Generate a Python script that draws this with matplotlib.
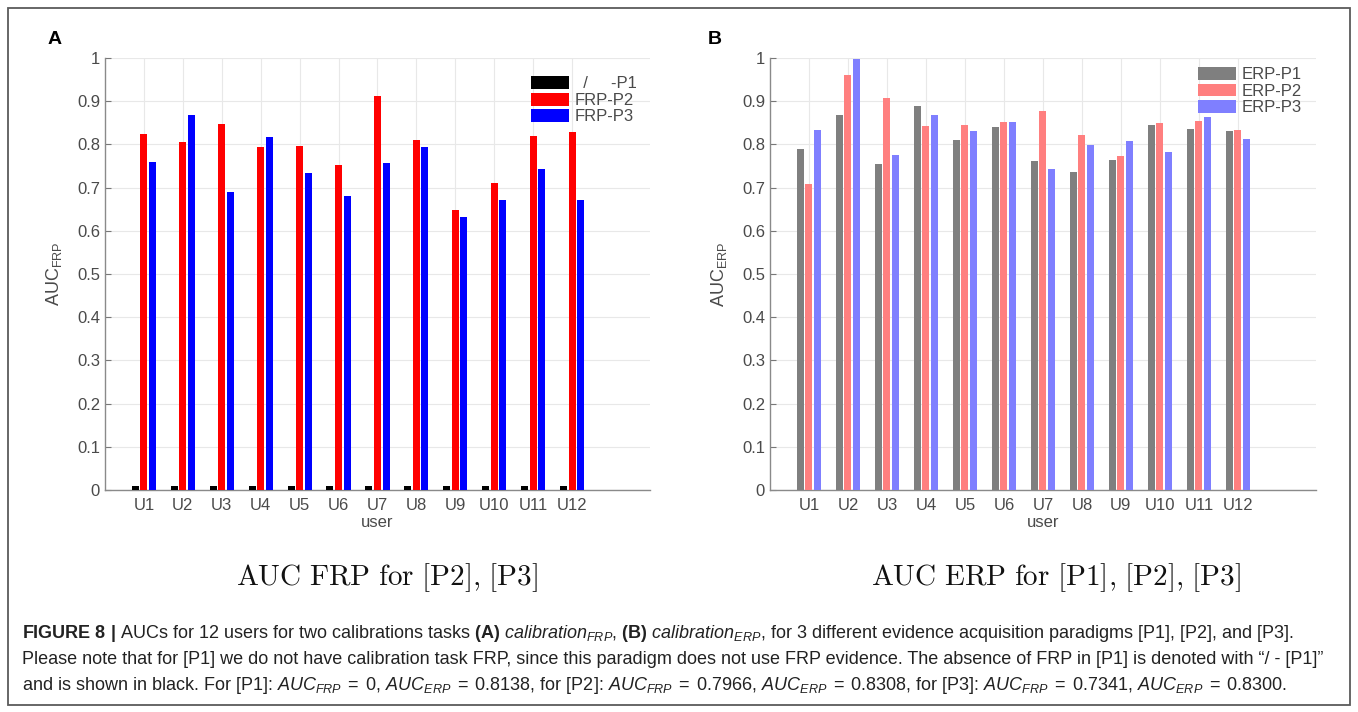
import numpy as np
import matplotlib
matplotlib.use("Agg")
import matplotlib.pyplot as plt
from matplotlib.patches import Rectangle

plt.rcParams['font.family'] = ['Liberation Sans', 'DejaVu Sans']
plt.rcParams['mathtext.fontset'] = 'custom'
plt.rcParams['mathtext.rm'] = 'Liberation Sans'
plt.rcParams['mathtext.it'] = 'Liberation Sans:italic'
plt.rcParams['mathtext.bf'] = 'Liberation Sans:bold'

users = ['U1', 'U2', 'U3', 'U4', 'U5', 'U6', 'U7', 'U8', 'U9', 'U10', 'U11', 'U12']

# panel A: FRP AUCs (P1 has no FRP -> tiny black placeholder)
frp_p1 = [0.01] * 12
frp_p2 = [0.825, 0.805, 0.847, 0.795, 0.796, 0.753, 0.912, 0.810, 0.648, 0.711, 0.819, 0.828]
frp_p3 = [0.760, 0.868, 0.690, 0.818, 0.735, 0.680, 0.757, 0.794, 0.632, 0.671, 0.744, 0.672]

# panel B: ERP AUCs
erp_p1 = [0.790, 0.868, 0.754, 0.890, 0.811, 0.841, 0.761, 0.736, 0.764, 0.846, 0.835, 0.831]
erp_p2 = [0.708, 0.960, 0.908, 0.843, 0.844, 0.851, 0.878, 0.821, 0.774, 0.849, 0.855, 0.834]
erp_p3 = [0.834, 0.998, 0.776, 0.868, 0.830, 0.851, 0.743, 0.799, 0.809, 0.782, 0.864, 0.812]

yticks = [0, 0.1, 0.2, 0.3, 0.4, 0.5, 0.6, 0.7, 0.8, 0.9, 1]
ytick_labels = ['0', '0.1', '0.2', '0.3', '0.4', '0.5', '0.6', '0.7', '0.8', '0.9', '1']

tick_col = '#4a4a4a'
fig = plt.figure(figsize=(13.58, 7.12), dpi=100)

# outer frame
fig.patches.append(Rectangle((8 / 1358, 1 - 705 / 712), 1342 / 1358, 697 / 712,
                             transform=fig.transFigure, fill=False,
                             edgecolor='#5a5a5a', linewidth=1.3))


def draw_panel(ax, series, colors, labels, ylab, leg_anchor):
    x = np.arange(1, 13)
    offsets = [-0.22, 0, 0.22]
    for s, c, lab, off in zip(series, colors, labels, offsets):
        ax.bar(x + off, s, width=0.18, color=c, label=lab, zorder=3)
    ax.set_xlim(0, 14)
    ax.set_ylim(0, 1)
    ax.set_xticks(x)
    ax.set_xticklabels(users)
    ax.set_yticks(yticks)
    ax.set_yticklabels(ytick_labels)
    ax.tick_params(direction='in', length=4, labelsize=12, colors=tick_col,
                   color='#777777')
    ax.tick_params(axis='x', pad=6, length=0)
    ax.grid(True, color='#e8e8e8', linewidth=0.8, zorder=0)
    ax.set_axisbelow(True)
    for side in ['top', 'right']:
        ax.spines[side].set_visible(False)
    for side in ['left', 'bottom']:
        ax.spines[side].set_color('#8a8a8a')
        ax.spines[side].set_linewidth(1.0)
    ax.set_xlabel('user', fontsize=12, color=tick_col, labelpad=1)
    ax.set_ylabel(ylab, fontsize=13, color=tick_col, labelpad=9)
    ax.legend(loc='upper right', bbox_to_anchor=leg_anchor, frameon=False,
              fontsize=12, handlelength=2.3, handleheight=0.8,
              labelspacing=0.08, handletextpad=0.3, borderpad=0,
              labelcolor=tick_col)


axA = fig.add_axes([0.0773, 0.3118, 0.4013, 0.6067])
draw_panel(axA, [frp_p1, frp_p2, frp_p3], ['#000000', '#ff0000', '#0000ff'],
           ['  /     -P1', 'FRP-P2', 'FRP-P3'], r'AUC$_{\mathrm{FRP}}$', (0.992, 0.977))

axB = fig.add_axes([0.567, 0.3118, 0.402, 0.6067])
draw_panel(axB, [erp_p1, erp_p2, erp_p3], ['#7f7f7f', '#ff7f7f', '#7f7fff'],
           ['ERP-P1', 'ERP-P2', 'ERP-P3'], r'AUC$_{\mathrm{ERP}}$', (0.989, 0.998))

# panel letters
fig.text(55 / 1358, 1 - 40 / 712, 'A', fontsize=14, fontweight='bold', ha='center', va='center')
fig.text(715 / 1358, 1 - 40 / 712, 'B', fontsize=14, fontweight='bold', ha='center', va='center')

# latex-like sub titles
fig.text(387 / 1358, 1 - 578 / 712, r'$\mathrm{AUC\ FRP\ for\ [P2]{,}\ [P3]}$',
         math_fontfamily='cm', fontsize=21, ha='center', va='center', color='#111111')
fig.text(1056 / 1358, 1 - 578 / 712, r'$\mathrm{AUC\ ERP\ for\ [P1]{,}\ [P2]{,}\ [P3]}$',
         math_fontfamily='cm', fontsize=21, ha='center', va='center', color='#111111')

# caption
cap1 = (r'$\mathbf{FIGURE\ 8\ |}$ AUCs for 12 users for two calibrations tasks $\mathbf{(A)}$ '
        r'$\mathit{calibration}_{\mathit{FRP}}$, $\mathbf{(B)}$ $\mathit{calibration}_{\mathit{ERP}}$, '
        r'for 3 different evidence acquisition paradigms [P1], [P2], and [P3].')
cap2 = ('Please note that for [P1] we do not have calibration task FRP, since this paradigm does not '
        'use FRP evidence. The absence of FRP in [P1] is denoted with \u201c/ - [P1]\u201d')
cap3 = (r'and is shown in black. For [P1]: $\mathit{AUC}_{\mathit{FRP}}\;=\;0$, '
        r'$\mathit{AUC}_{\mathit{ERP}}\;=\;0.8138$, for [P2]: $\mathit{AUC}_{\mathit{FRP}}\;=\;0.7966$, '
        r'$\mathit{AUC}_{\mathit{ERP}}\;=\;0.8308$, for [P3]: $\mathit{AUC}_{\mathit{FRP}}\;=\;0.7341$, '
        r'$\mathit{AUC}_{\mathit{ERP}}\;=\;0.8300$.')
for line, ypx in zip([cap1, cap2, cap3], [633, 659, 685]):
    fig.text(22 / 1358, 1 - ypx / 712, line, fontsize=13, ha='left', va='center', color='#222222')

fig.savefig('out.png', dpi=100)
